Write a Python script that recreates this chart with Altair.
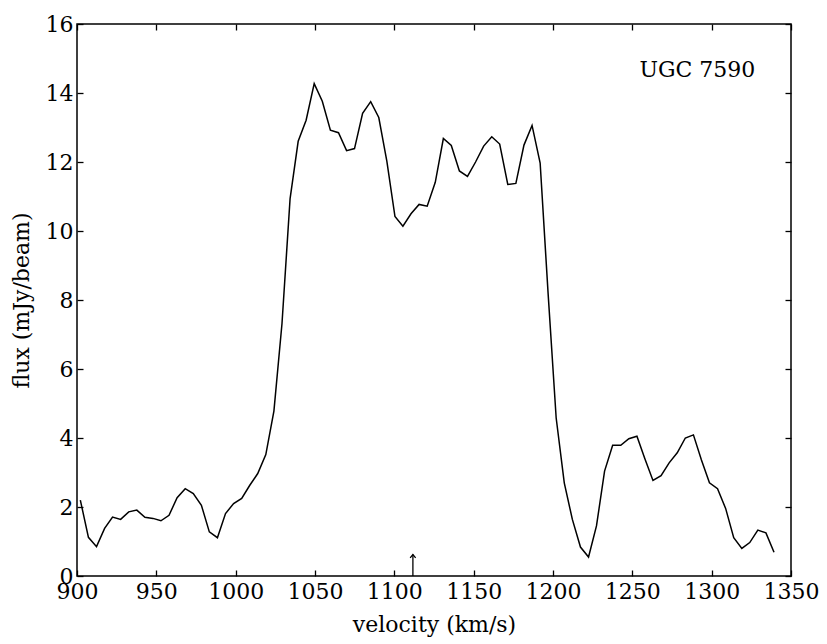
import altair as alt
import pandas as pd

# HI spectrum: channel velocities (km/s) and flux densities (mJy/beam)
velocity = [
    902.1, 907.2, 912.3, 917.4, 922.4, 927.5, 932.6, 937.7, 942.8, 947.9,
    952.9, 958.0, 963.1, 968.2, 973.3, 978.4, 983.4, 988.5, 993.6, 998.7,
    1003.8, 1008.9, 1013.9, 1019.0, 1024.1, 1029.2, 1034.3, 1039.4, 1044.4, 1049.5,
    1054.6, 1059.7, 1064.8, 1069.9, 1074.9, 1080.0, 1085.1, 1090.2, 1095.3, 1100.4,
    1105.4, 1110.5, 1115.6, 1120.7, 1125.8, 1130.9, 1135.9, 1141.0, 1146.1, 1151.2,
    1156.3, 1161.4, 1166.4, 1171.5, 1176.6, 1181.7, 1186.8, 1191.9, 1196.9, 1202.0,
    1207.1, 1212.2, 1217.3, 1222.4, 1227.4, 1232.5, 1237.6, 1242.7, 1247.8, 1252.9,
    1257.9, 1263.0, 1268.1, 1273.2, 1278.3, 1283.4, 1288.5, 1293.5, 1298.6, 1303.7,
    1308.8, 1313.9, 1319.0, 1324.0, 1329.1, 1334.2, 1339.3,
]
flux = [
    2.20, 1.12, 0.85, 1.38, 1.71, 1.64, 1.86, 1.91, 1.70, 1.67,
    1.60, 1.76, 2.27, 2.53, 2.39, 2.05, 1.28, 1.11, 1.81, 2.10,
    2.25, 2.63, 2.97, 3.52, 4.78, 7.32, 10.94, 12.60, 13.21, 14.27,
    13.76, 12.92, 12.85, 12.33, 12.39, 13.41, 13.75, 13.29, 12.02, 10.42,
    10.14, 10.50, 10.77, 10.72, 11.41, 12.68, 12.48, 11.74, 11.58, 12.00,
    12.46, 12.73, 12.52, 11.35, 11.38, 12.49, 13.06, 11.97, 8.20, 4.58,
    2.70, 1.64, 0.84, 0.55, 1.45, 3.04, 3.79, 3.79, 3.98, 4.05,
    3.40, 2.77, 2.91, 3.28, 3.57, 4.00, 4.09, 3.37, 2.70, 2.53,
    1.96, 1.11, 0.80, 0.97, 1.33, 1.25, 0.69,
]

# systemic velocity marker
arrow_velocity = [1111.7]
arrow_base = [0.0]
arrow_tip = [0.62]

# galaxy name
label_text = ["UGC 7590"]
label_velocity = [1291.0]
label_flux = [14.45]

x_ticks = [900, 950, 1000, 1050, 1100, 1150, 1200, 1250, 1300, 1350]
y_ticks = [0, 2, 4, 6, 8, 10, 12, 14, 16]

W, H = 714, 552
TICK = 6
FONT = "DejaVu Serif"
FS = 22

spectrum = pd.DataFrame({"velocity": velocity, "flux": flux})
arrow = pd.DataFrame({"velocity": arrow_velocity, "base": arrow_base, "tip": arrow_tip})
label = pd.DataFrame({"velocity": label_velocity, "flux": label_flux, "text": label_text})

x_scale = alt.Scale(domain=[900, 1350], nice=False, zero=False)
y_scale = alt.Scale(domain=[0, 16], nice=False, zero=False)

# inward ticks: axes pulled inside the frame by the tick length
tick_style = dict(
    domain=False, grid=False, ticks=True, tickSize=TICK,
    tickColor="black", tickWidth=1.3, offset=-TICK,
)

bottom_axis = alt.Axis(
    orient="bottom", title="velocity (km/s)", values=x_ticks, format="d",
    labelFlush=False, labelOverlap=False, labelBound=False,
    labelPadding=5, titlePadding=12, **tick_style,
)
left_axis = alt.Axis(
    orient="left", title="flux (mJy/beam)", values=y_ticks, format="d",
    labelFlush=False, labelOverlap=False, labelBound=False,
    labelPadding=4, titlePadding=12, **tick_style,
)
top_axis = alt.Axis(orient="top", title=None, values=x_ticks, labels=False, **tick_style)
right_axis = alt.Axis(orient="right", title=None, values=y_ticks, labels=False, **tick_style)

line = alt.Chart(spectrum).mark_line(color="black", strokeWidth=1.5).encode(
    x=alt.X("velocity:Q", scale=x_scale, axis=bottom_axis),
    y=alt.Y("flux:Q", scale=y_scale, axis=left_axis),
)

shaft = alt.Chart(arrow).mark_rule(color="black", strokeWidth=1.3).encode(
    x=alt.X("velocity:Q", scale=x_scale, axis=top_axis),
    y=alt.Y("base:Q", scale=y_scale, axis=right_axis),
    y2="tip:Q",
)

head = alt.Chart(arrow).mark_point(
    shape="M-1,1.2L0,0L1,1.2", filled=False, size=30,
    stroke="black", strokeWidth=1.3, opacity=1,
).encode(
    x=alt.X("velocity:Q", scale=x_scale, axis=None),
    y=alt.Y("tip:Q", scale=y_scale, axis=None),
)

name = alt.Chart(label).mark_text(
    font=FONT, fontSize=FS, align="center", baseline="alphabetic", color="black",
).encode(
    x=alt.X("velocity:Q", scale=x_scale, axis=None),
    y=alt.Y("flux:Q", scale=y_scale, axis=None),
    text="text:N",
)

chart = (
    alt.layer(line, shaft, head, name)
    .resolve_axis(x="independent", y="independent")
    .properties(
        width=W, height=H,
        autosize=alt.AutoSizeParams(type="none"),
        padding={"left": 77, "top": 24, "right": 36, "bottom": 68},
        background="white",
    )
    .configure_view(stroke="black", strokeWidth=1.5)
    .configure_axis(
        labelFont=FONT, titleFont=FONT, labelFontSize=FS, titleFontSize=FS,
        labelColor="black", titleColor="black", titleFontWeight="normal",
    )
)

chart.save("out.html", embed_options={"renderer": "svg", "actions": False})
